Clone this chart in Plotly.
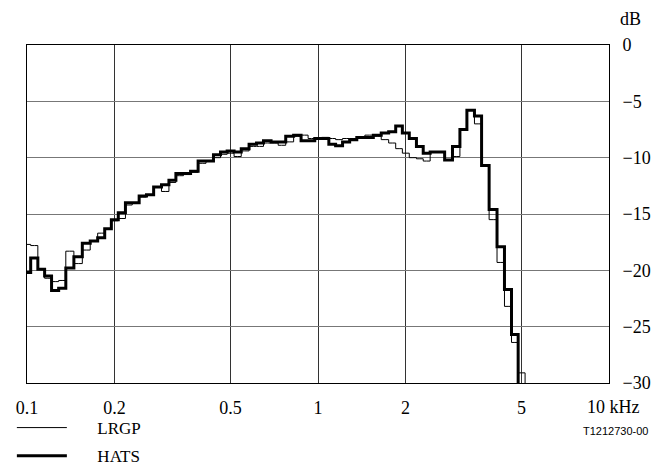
import plotly.graph_objects as go

# 1/12-octave band centre frequencies (kHz, R40 preferred numbers)
freq_khz = [
    0.100, 0.106, 0.112, 0.118, 0.125, 0.132, 0.140, 0.150, 0.160, 0.170,
    0.180, 0.190, 0.200, 0.212, 0.224, 0.236, 0.250, 0.265, 0.280, 0.300,
    0.315, 0.335, 0.355, 0.375, 0.400, 0.425, 0.450, 0.475, 0.500, 0.530,
    0.560, 0.600, 0.630, 0.670, 0.710, 0.750, 0.800, 0.850, 0.900, 0.950,
    1.000, 1.060, 1.120, 1.180, 1.250, 1.320, 1.400, 1.500, 1.600, 1.700,
    1.800, 1.900, 2.000, 2.120, 2.240, 2.360, 2.500, 2.650, 2.800, 3.000,
    3.150, 3.350, 3.550, 3.750, 4.000, 4.250, 4.500, 4.750, 5.000, 5.300,
]

hats_db = [
    -20.2, -18.9, -19.9, -20.5, -21.8, -21.6, -19.8, -18.8, -17.6, -17.4,
    -17.1, -16.3, -15.5, -14.9, -14.0, -14.0, -13.4, -13.3, -12.6, -12.4,
    -12.0, -11.4, -11.4, -11.2, -10.3, -10.3, -9.75, -9.5, -9.4, -9.5,
    -9.2, -8.8, -8.7, -8.5, -8.6, -8.6, -8.1, -8.0, -8.5, -8.5,
    -8.3, -8.3, -8.8, -8.95, -8.6, -8.4, -8.2, -8.2, -8.0, -7.8,
    -7.7, -7.2, -7.8, -8.3, -9.0, -9.6, -9.5, -9.5, -10.2, -9.0,
    -7.5, -5.8, -6.3, -10.7, -14.6, -17.9, -21.7, -25.7, -34.0,
]

lrgp_db = [
    -17.7, -17.8, -19.9, -20.7, -21.0, -20.9, -18.3, -19.4, -18.2, -17.4,
    -16.7, -16.3, -15.6, -15.4, -14.2, -14.0, -13.5, -13.3, -12.6, -13.0,
    -12.2, -11.6, -11.5, -11.3, -10.5, -10.3, -10.0, -9.7, -9.6, -9.9,
    -9.4, -9.0, -9.0, -8.7, -8.7, -8.9, -8.6, -8.1, -8.0, -8.3,
    -8.3, -8.2, -8.3, -8.4, -8.3, -8.3, -8.2, -8.0, -8.1, -8.4,
    -8.7, -9.2, -9.6, -10.0, -10.1, -10.3, -9.5, -9.5, -10.2, -9.9,
    -7.5, -5.8, -7.0, -10.7, -15.5, -19.3, -23.2, -26.4, -29.1, -34.0,
]

series_names = ["LRGP", "HATS"]
x_tickvals = [0.1, 0.2, 0.5, 1, 2, 5, 10]
x_ticktext = ["0.1", "0.2", "0.5", "1", "2", "5", ""]
y_tickvals = [0, -5, -10, -15, -20, -25, -30]

FONT = '"Liberation Serif", "Times New Roman", serif'
FS = 18
PAD = "\u00a0" * 6

fig = go.Figure()
fig.add_trace(go.Scatter(
    x=freq_khz[:len(lrgp_db)], y=lrgp_db, mode="lines", name=PAD + series_names[0],
    line=dict(color="black", width=1, shape="hvh"),
    legendgroup="a",
))
fig.add_trace(go.Scatter(
    x=freq_khz[:len(hats_db)], y=hats_db, mode="lines", name=PAD + series_names[1],
    line=dict(color="black", width=3, shape="hvh"),
    legendgroup="b",
))

fig.update_layout(
    template="none",
    width=653, height=468,
    margin=dict(l=27, r=44, t=45, b=85, autoexpand=False),
    paper_bgcolor="white", plot_bgcolor="white",
    font=dict(family=FONT, size=FS, color="black"),
    showlegend=True,
    legend=dict(
        x=-0.026, y=-0.080, xanchor="left", yanchor="top",
        traceorder="grouped", tracegroupgap=3,
        itemwidth=50, font=dict(family=FONT, size=17),
        bgcolor="rgba(0,0,0,0)", borderwidth=0,
    ),
    xaxis=dict(
        type="log", range=[-1, 1], automargin=False,
        tickvals=x_tickvals, ticktext=x_ticktext,
        showgrid=True, gridcolor="#333333", gridwidth=1,
        showline=True, mirror=True, linecolor="black", linewidth=1,
        ticks="", ticklabelstandoff=8, zeroline=False,
    ),
    yaxis=dict(
        range=[-30, 0], tickvals=y_tickvals, side="right", automargin=False,
        showgrid=True, gridcolor="#777777", gridwidth=1,
        showline=True, mirror=True, linecolor="black", linewidth=1,
        ticks="", ticklabelstandoff=9, zeroline=False,
    ),
    annotations=[
        dict(text="10 kHz", x=1, y=0, xref="x", yref="paper",
             xanchor="left", yanchor="top", xshift=-24, yshift=-12,
             showarrow=False, font=dict(family=FONT, size=FS)),
        dict(text="dB", x=1, y=1, xref="paper", yref="paper",
             xanchor="left", yanchor="bottom", xshift=9, yshift=14,
             showarrow=False, font=dict(family=FONT, size=FS)),
        dict(text="T1212730-00", x=1, y=0, xref="paper", yref="paper",
             xanchor="right", yanchor="top", xshift=41, yshift=-40,
             showarrow=False,
             font=dict(family='"Liberation Sans", Arial, sans-serif', size=11)),
    ],
)

fig.write_html("out.html")
